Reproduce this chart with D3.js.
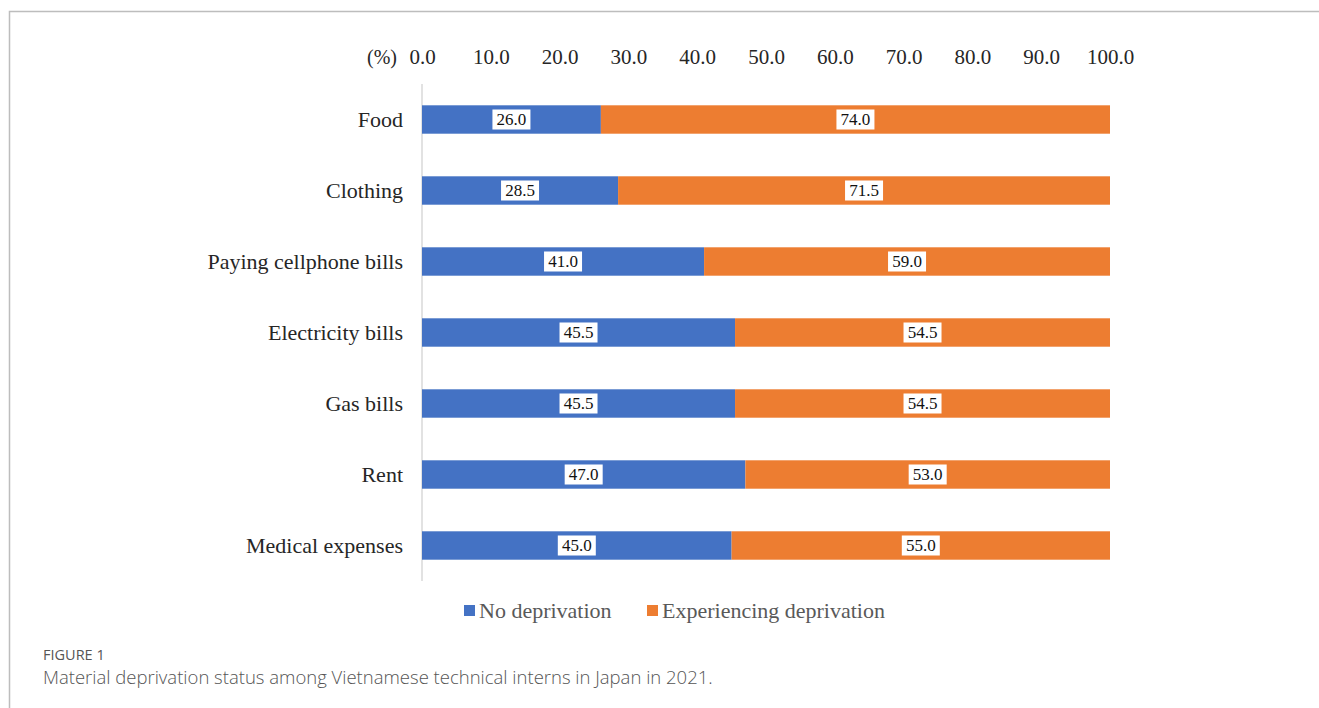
<!DOCTYPE html>
<html>
<head>
<meta charset="utf-8">
<script src="https://cdn.jsdelivr.net/npm/d3@7"></script>
<style>
  body { margin: 0; background: #fff; }
</style>
</head>
<body>
<div id="chart-area"></div>
<script>
// data
const categories = ["Food", "Clothing", "Paying cellphone bills", "Electricity bills", "Gas bills", "Rent", "Medical expenses"];
const noDeprivation = [26.0, 28.5, 41.0, 45.5, 45.5, 47.0, 45.0];
const experiencing = [74.0, 71.5, 59.0, 54.5, 54.5, 53.0, 55.0];
const seriesNames = ["No deprivation", "Experiencing deprivation"];
const xTicks = [0, 10, 20, 30, 40, 50, 60, 70, 80, 90, 100];

const colors = ["#4472C4", "#ED7D31"];
const SERIF = "'Liberation Serif', 'Times New Roman', serif";

const W = 1319, H = 708;
const svg = d3.select("#chart-area").append("svg")
    .attr("width", W)
    .attr("height", H);

// frame
svg.append("path")
    .attr("d", `M9.5,${H} V11.5 H${W}`)
    .attr("fill", "none")
    .attr("stroke", "#bdbdbd")
    .attr("stroke-width", 1.5);

const x = d3.scaleLinear().domain([0, 100]).range([422, 1110]);
const y = d3.scaleBand().domain(categories).range([84, 581]).paddingInner(0.6).paddingOuter(0.3);

// rows of stacked data
const rows = categories.map((c, i) => ({cat: c, vals: [noDeprivation[i], experiencing[i]]}));
const stack = d3.stack().keys([0, 1]).value((d, k) => d.vals[k]);
const series = stack(rows);

// vertical axis line
svg.append("line")
    .attr("x1", x(0)).attr("x2", x(0))
    .attr("y1", 84).attr("y2", 581)
    .attr("stroke", "#d9d9d9")
    .attr("stroke-width", 1.5);

// top axis tick labels
const xAxis = d3.axisTop(x).tickValues(xTicks).tickFormat(d3.format(".1f")).tickSize(0).tickPadding(0);
const gx = svg.append("g").attr("transform", "translate(0,64)").call(xAxis);
gx.select(".domain").remove();
gx.selectAll("text")
    .attr("font-family", SERIF)
    .attr("font-size", "21px")
    .attr("fill", "#262626");

svg.append("text")
    .attr("x", 382).attr("y", 64)
    .attr("text-anchor", "middle")
    .attr("font-family", SERIF)
    .attr("font-size", "20px")
    .attr("fill", "#262626")
    .text("(%)");

// category labels
const gy = svg.append("g").attr("transform", `translate(${x(0)},0)`)
    .call(d3.axisLeft(y).tickSize(0).tickPadding(19));
gy.select(".domain").remove();
gy.selectAll("text")
    .attr("font-family", SERIF)
    .attr("font-size", "22px")
    .attr("fill", "#262626");

// bars
const layers = svg.selectAll(".layer").data(series).enter().append("g")
    .attr("class", "layer")
    .attr("fill", (d, i) => colors[i]);

layers.selectAll("rect").data(d => d).enter().append("rect")
    .attr("x", d => x(d[0]))
    .attr("y", d => y(d.data.cat))
    .attr("width", d => x(d[1]) - x(d[0]))
    .attr("height", y.bandwidth());

// value labels in white boxes
const labels = svg.append("g");
series.forEach((s, k) => {
    s.forEach(d => {
        const cx = x((d[0] + d[1]) / 2);
        const cy = y(d.data.cat) + y.bandwidth() / 2;
        const g = labels.append("g").attr("transform", `translate(${cx},${cy})`);
        g.append("rect")
            .attr("x", -19).attr("y", -10)
            .attr("width", 38).attr("height", 20)
            .attr("fill", "#fff");
        g.append("text")
            .attr("text-anchor", "middle")
            .attr("dy", "0.35em")
            .attr("font-family", SERIF)
            .attr("font-size", "17px")
            .attr("fill", "#111")
            .text(d3.format(".1f")(d.data.vals[k]));
    });
});

// legend
const legendItems = [{x: 464}, {x: 647}];
const legend = svg.append("g");
seriesNames.forEach((name, i) => {
    const lx = legendItems[i].x;
    legend.append("rect")
        .attr("x", lx).attr("y", 605)
        .attr("width", 11).attr("height", 11)
        .attr("fill", colors[i]);
    legend.append("text")
        .attr("x", lx + 15).attr("y", 618)
        .attr("font-family", SERIF)
        .attr("font-size", "22px")
        .attr("fill", "#595959")
        .text(name);
});

// caption
svg.append("text")
    .attr("x", 43).attr("y", 660)
    .attr("font-family", "'Open Sans', sans-serif")
    .attr("font-size", "14.5px")
    .attr("fill", "#555")
    .text("FIGURE 1");
svg.append("text")
    .attr("x", 43).attr("y", 684)
    .attr("font-family", "'Open Sans', sans-serif")
    .attr("font-size", "18.5px")
    .attr("font-weight", 300)
    .attr("fill", "#555")
    .text("Material deprivation status among Vietnamese technical interns in Japan in 2021.");
</script>
</body>
</html>
